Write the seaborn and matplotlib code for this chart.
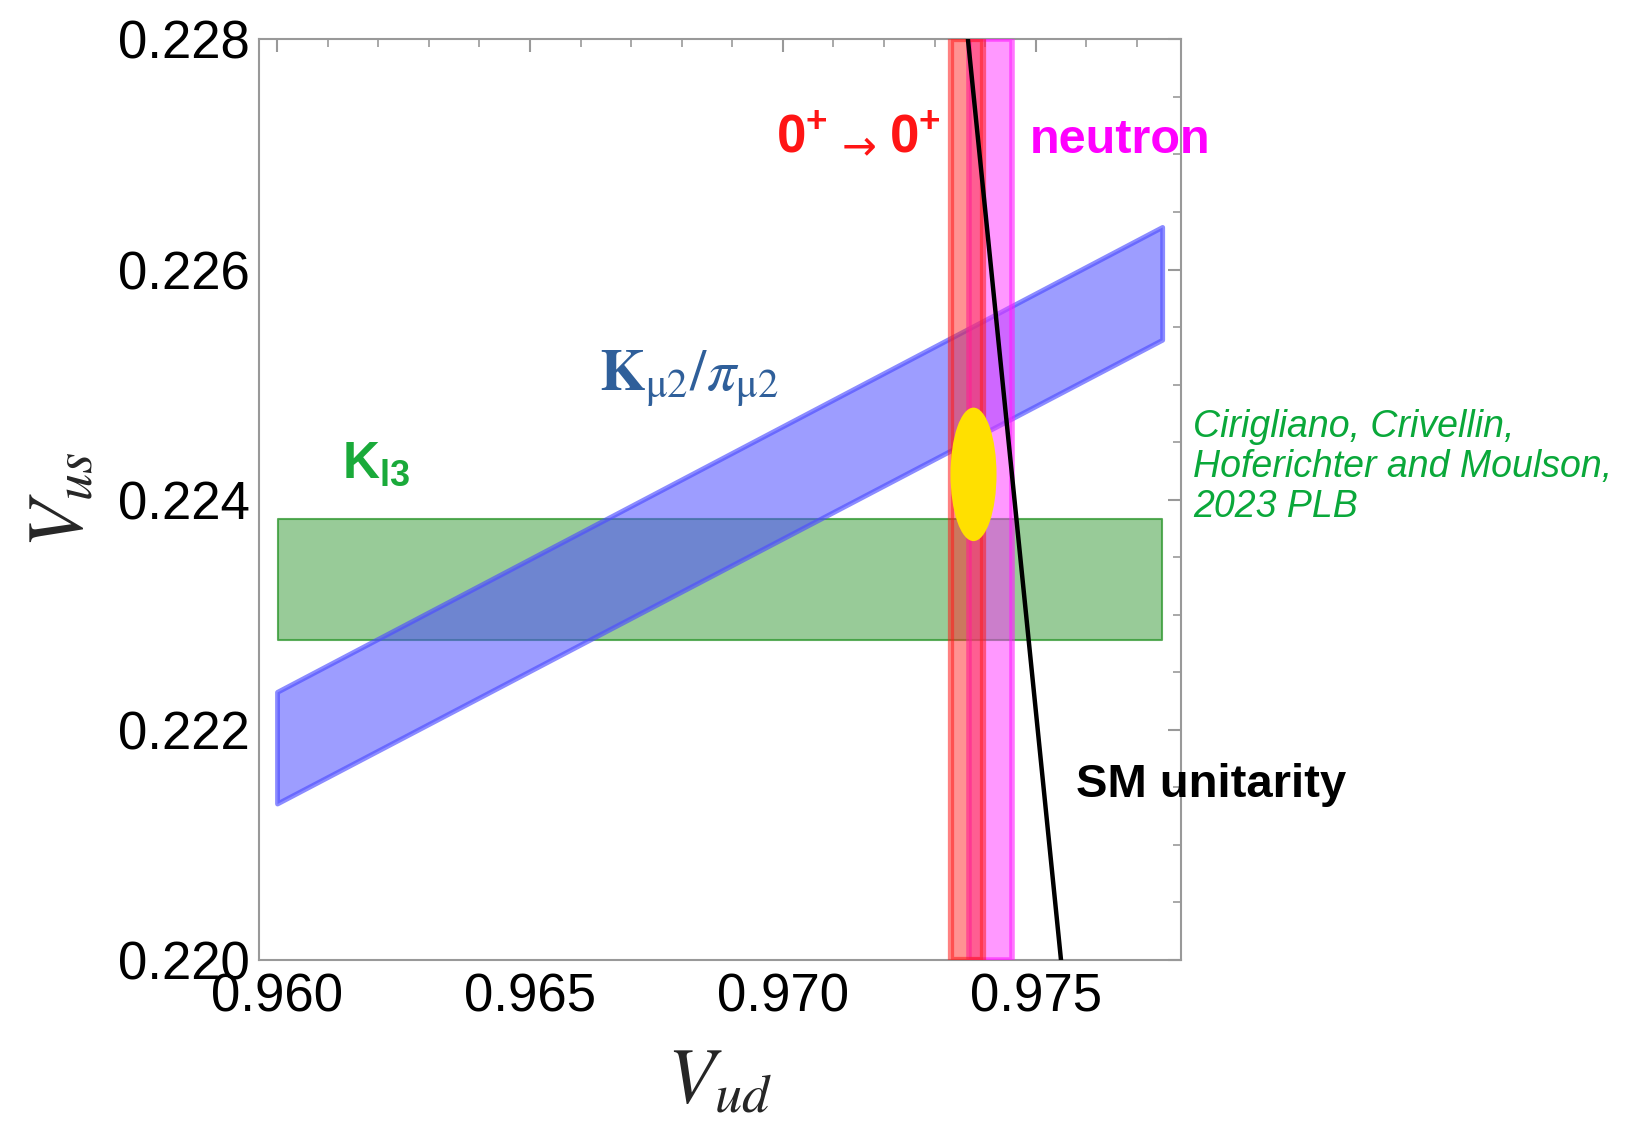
import numpy as np
import pandas as pd
import matplotlib
matplotlib.use("Agg")
import matplotlib.pyplot as plt
from matplotlib.patches import Ellipse
from matplotlib.ticker import MultipleLocator, FixedLocator, FormatStrFormatter
import seaborn as sns

# ---------------- data ----------------
kl3_vud = [0.96002, 0.97750]          # K_l3 band, Vud extent
kl3_vus = [0.22278, 0.22383]          # K_l3 band, Vus range
kmu2_vud = [0.96000, 0.97750]         # K_mu2/pi_mu2 band, Vud ends
kmu2_vus_low = [0.22136, 0.22539]     # lower edge at the two ends
kmu2_vus_high = [0.22233, 0.22637]    # upper edge at the two ends
superallowed_vud = [0.97333, 0.97395] # 0+ -> 0+ band
neutron_vud = [0.97368, 0.97454]      # neutron band
sm_vud = [0.97366, 0.97550]           # SM unitarity line
sm_vus = [0.2280, 0.2200]
fit_center = [0.97377, 0.22422]       # combined fit ellipse
fit_size = [0.00091, 0.00116]
xticks = [0.960, 0.965, 0.970, 0.975]
yticks = [0.220, 0.222, 0.224, 0.226, 0.228]
xlim = [0.95965, 0.97787]
ylim = [0.220, 0.228]

# ---------------- style ----------------
sns.set_theme(style="white")
plt.rcParams["font.family"] = ["Liberation Sans", "DejaVu Sans"]
plt.rcParams["mathtext.fontset"] = "custom"
plt.rcParams["mathtext.rm"] = "Liberation Sans"
plt.rcParams["mathtext.bf"] = "Liberation Sans:bold"
plt.rcParams["mathtext.it"] = "Liberation Sans:italic"

fig = plt.figure(figsize=(16.27, 11.21), dpi=100)
fig.patch.set_facecolor("white")
ax = fig.add_axes([0.1594, 0.1436, 0.5664, 0.8213])
ax.set_facecolor("white")

# K_l3 band (green)
ax.fill_between(kl3_vud, [kl3_vus[0]] * 2, [kl3_vus[1]] * 2,
                facecolor=(0.2, 0.6, 0.2, 0.5), edgecolor=(0.2, 0.6, 0.2, 0.8),
                linewidth=1.5, zorder=1)

# K_mu2/pi_mu2 band (blue)
ax.fill_between(kmu2_vud, kmu2_vus_low, kmu2_vus_high,
                facecolor=(0.3, 0.3, 1.0, 0.55), edgecolor=(0.3, 0.3, 1.0, 0.65),
                linewidth=3.5, zorder=2)

# neutron band (magenta)
ax.axvspan(neutron_vud[0], neutron_vud[1], facecolor=(1.0, 0.2, 1.0, 0.5),
           edgecolor=(1.0, 0.1, 1.0, 0.6), linewidth=4, zorder=3)

# 0+ -> 0+ band (red)
ax.axvspan(superallowed_vud[0], superallowed_vud[1], facecolor=(1.0, 0.15, 0.15, 0.5),
           edgecolor=(1.0, 0.1, 0.1, 0.55), linewidth=4.5, zorder=4)

# fit ellipse
ax.add_patch(Ellipse(xy=(fit_center[0], fit_center[1]), width=fit_size[0],
                     height=fit_size[1], facecolor="#ffe000", edgecolor="none", zorder=5))

# SM unitarity line
df_sm = pd.DataFrame({"vud": sm_vud, "vus": sm_vus})
sns.lineplot(data=df_sm, x="vud", y="vus", sort=False, color="black",
             linewidth=3.2, ax=ax, zorder=6)

# axes
ax.set_xlim(xlim)
ax.set_ylim(ylim)
ax.xaxis.set_major_locator(FixedLocator(xticks))
ax.yaxis.set_major_locator(FixedLocator(yticks))
ax.xaxis.set_minor_locator(MultipleLocator(0.001))
ax.yaxis.set_minor_locator(MultipleLocator(0.0005))
ax.xaxis.set_major_formatter(FormatStrFormatter("%.3f"))
ax.yaxis.set_major_formatter(FormatStrFormatter("%.3f"))
ax.tick_params(which="both", direction="in", top=True, right=True,
               color="#999999", labelcolor="black")
ax.tick_params(which="major", length=9.5, width=1.5, labelsize=38, pad=7)
ax.tick_params(axis="x", which="major", pad=9)
ax.tick_params(which="minor", length=6, width=1.2)
for lab in ax.get_xticklabels() + ax.get_yticklabels():
    lab.set_fontfamily("Liberation Sans")
for sp in ax.spines.values():
    sp.set_color("#999999")
    sp.set_linewidth(1.5)
    sp.set_visible(True)

ax.set_xlabel(r"$V_{ud}$", fontsize=56, math_fontfamily="stix", labelpad=16)
ax.set_ylabel(r"$V_{us}$", fontsize=56, math_fontfamily="stix", labelpad=14)

# annotations
red = "#ff1515"
ax.text(0.96987, 0.22714, r"$\mathbf{0^{+}}$", color=red, fontsize=38,
        ha="left", va="center", zorder=7)
ax.text(0.97151, 0.22706, "\u2192", color=red, fontsize=30, family="DejaVu Sans",
        ha="center", va="center", zorder=7)
ax.text(0.97210, 0.22714, r"$\mathbf{0^{+}}$", color=red, fontsize=38,
        ha="left", va="center", zorder=7)
ax.text(0.97489, 0.227125, "neutron", color="#ff00ff", fontsize=35,
        fontweight="bold", ha="left", va="center", zorder=7)
ax.text(0.975795, 0.221517, "SM unitarity", color="black", fontsize=34,
        fontweight="bold", ha="left", va="center", zorder=7)
ax.text(0.96129, 0.22431, r"$\mathbf{K_{l3}}$", color="#1aaa3a", fontsize=37,
        ha="left", va="center", zorder=7)
ax.text(0.96636, 0.22505, r"$\mathbf{K}_{\mathrm{\mu 2}}/\pi_{\mathrm{\mu 2}}$",
        color="#2f5f9a", fontsize=42, math_fontfamily="stix",
        ha="left", va="center", zorder=7)
ax.text(0.97811, 0.224285, "Cirigliano, Crivellin,\nHoferichter and Moulson,\n2023 PLB",
        color="#0aa83a", fontsize=27, style="italic", ha="left", va="center",
        linespacing=1.15, zorder=7)

fig.savefig("out.png", dpi=100, facecolor="white")
